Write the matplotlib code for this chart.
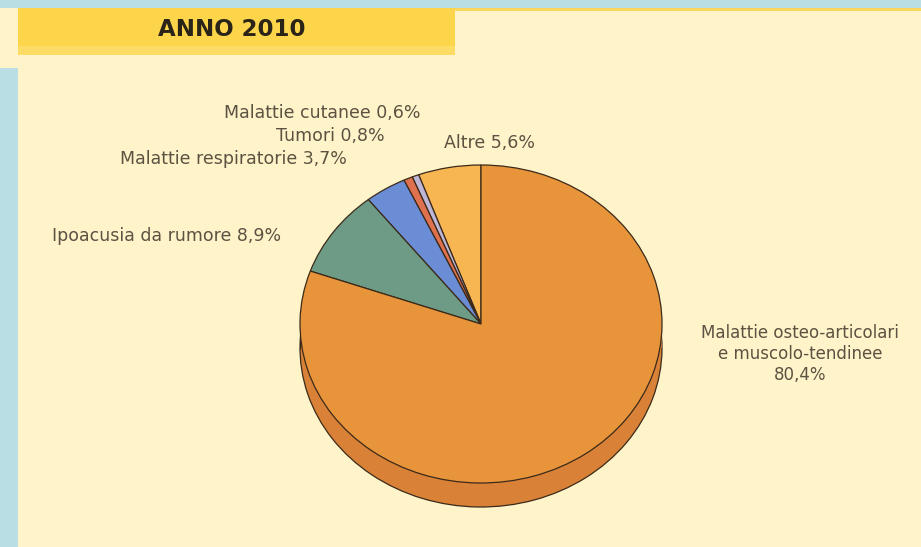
import numpy as np
import matplotlib
matplotlib.use("Agg")
import matplotlib.pyplot as plt
import matplotlib.patches as mpatches

# --- data -------------------------------------------------------------
title = "ANNO 2010"
labels = ["Altre", "Malattie cutanee", "Tumori", "Malattie respiratorie",
          "Ipoacusia da rumore", "Malattie osteo-articolari\ne muscolo-tendinee"]
values = [5.6, 0.6, 0.8, 3.7, 8.9, 80.4]
colors = ["#F8B652", "#BDB6D6", "#E0714F", "#6B8DD5", "#6D9B86", "#E8943B"]
side_colors = ["#E09A3E", "#A59EBE", "#C55E40", "#5A78B8", "#5C8572", "#D98237"]

W, H = 921, 547
BLUE = "#B9DEE3"
CREAM = "#FEF3C9"
TEXT = "#5C5242"

fig = plt.figure(figsize=(W / 100, H / 100), dpi=100)
fig.patch.set_facecolor(BLUE)

# background panels (pixel coords, y down)
bg = fig.add_axes([0, 0, 1, 1])
bg.set_xlim(0, W); bg.set_ylim(H, 0); bg.axis("off")
bg.add_patch(mpatches.Rectangle((18, 8), W - 18, H - 8, color=CREAM, lw=0))
bg.add_patch(mpatches.Rectangle((0, 8), 18, 60, color=CREAM, lw=0))
bg.add_patch(mpatches.Rectangle((455, 8), W - 455, 3, color="#FAD75C", lw=0))
bg.add_patch(mpatches.Rectangle((18, 8), 437, 47, color="#FCD54A", lw=0))
bg.add_patch(mpatches.Rectangle((18, 46), 437, 9, color="#FDDC66", lw=0))
bg.text(232, 29, title, ha="center", va="center", fontsize=16.5,
        fontweight="bold", color="#2A2318", family="DejaVu Sans")

# --- pie with a little depth -----------------------------------------
cx0, cx1 = 300, 662          # ellipse left/right in pixels
top, bot, depth = 165, 483, 24
ry = (bot - top) / 2
d = depth / ry
ax = fig.add_axes([cx0 / W, (H - bot - depth) / H, (cx1 - cx0) / W,
                   (bot + depth - top) / H])
ax.set_xlim(-1, 1); ax.set_ylim(-1 - d, 1)

edge = dict(edgecolor="#3B2A1A", linewidth=0.9)
ax.pie(values, colors=side_colors, startangle=90, counterclock=True,
       center=(0, -d), radius=1, wedgeprops=edge, frame=True)
ax.add_patch(mpatches.Rectangle((-1, -d), 2, d, color=side_colors[-1], lw=0,
                                zorder=2))
ax.plot([-1, -1], [0, -d], color="#3B2A1A", lw=0.9, zorder=3)
ax.plot([1, 1], [0, -d], color="#3B2A1A", lw=0.9, zorder=3)
wedges, _ = ax.pie(values, colors=colors, startangle=90, counterclock=True,
                   center=(0, 0), radius=1, wedgeprops=edge, frame=True)
for w in wedges:
    w.set_zorder(4)
ax.set_aspect("auto")
ax.set_xlim(-1, 1); ax.set_ylim(-1 - d, 1)
ax.axis("off")

# --- labels -----------------------------------------------------------
lab_kw = dict(fontsize=12.5, color=TEXT, family="DejaVu Sans", va="center")
fmt = lambda v: f"{v:.1f}".replace(".", ",") + "%"
bg.text(420, 113, f"{labels[1]} {fmt(values[1])}", ha="right", **lab_kw)
bg.text(385, 136, f"{labels[2]} {fmt(values[2])}", ha="right", **lab_kw)
bg.text(347, 159, f"{labels[3]} {fmt(values[3])}", ha="right", **lab_kw)
bg.text(52, 236, f"{labels[4]} {fmt(values[4])}", ha="left", **lab_kw)
bg.text(489, 143, f"{labels[0]} {fmt(values[0])}", ha="center", **lab_kw)
lab_kw["fontsize"] = 12
bg.text(800, 354, f"{labels[5]}\n{fmt(values[5])}", ha="center",
        linespacing=1.2, **lab_kw)

fig.savefig("out.png", dpi=100, facecolor=fig.get_facecolor())
